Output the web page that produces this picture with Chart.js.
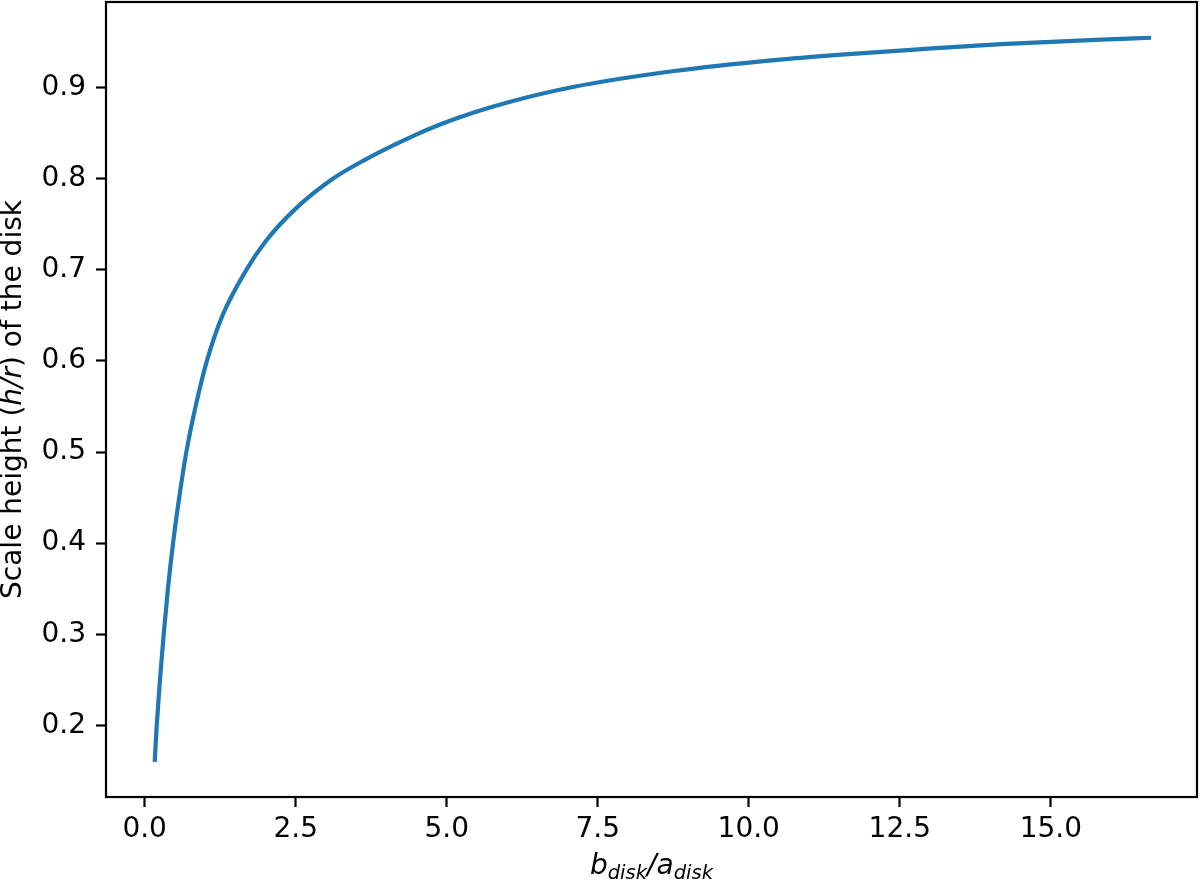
<!DOCTYPE html>
<html>
<head>
<meta charset="utf-8">
<script src="https://cdn.jsdelivr.net/npm/chart.js@4/dist/chart.umd.min.js"></script>
<style>
  html, body { margin: 0; padding: 0; background: #fff; }
  #wrap { width: 1200px; height: 880px; }
</style>
</head>
<body>
<div id="wrap"><canvas id="c" width="1200" height="880"></canvas></div>
<script>
// values
const ratioBA = [0.166, 0.187, 0.200, 0.253, 0.315, 0.385, 0.47, 0.572, 0.69, 0.843, 1.03, 1.29, 1.685, 2.0, 2.5, 3.12, 3.63, 4.457, 4.90, 5.5, 6.005, 7.11, 8.766, 10.42, 11.53, 12.85, 14.18, 15.83, 16.66]
const scaleHeight = [0.160, 0.185, 0.200, 0.250, 0.300, 0.350, 0.400, 0.450, 0.500, 0.550, 0.600, 0.650, 0.700, 0.731, 0.767, 0.800, 0.820, 0.847, 0.8595, 0.8735, 0.8835, 0.9007, 0.918, 0.930, 0.936, 0.942, 0.9475, 0.9525, 0.9545]
const xTicks = [0, 2.5, 5, 7.5, 10, 12.5, 15]
const yTicks = [0.2, 0.3, 0.4, 0.5, 0.6, 0.7, 0.8, 0.9]

const xTitle = [
  { t: 'b', it: true }, { t: 'disk', it: true, sub: true },
  { t: '/', it: true },
  { t: 'a', it: true }, { t: 'disk', it: true, sub: true }
]
const yTitle = [
  { t: 'Scale height (' }, { t: 'h', it: true }, { t: '/', it: true }, { t: 'r', it: true }, { t: ') of the disk' }
]

const FONT = 'DejaVu Sans'
const SIZE = 28

function segFont(s) {
  const sz = s.sub ? SIZE * 0.7 : SIZE
  return (s.it ? 'italic ' : '') + sz + 'px "' + FONT + '"'
}

function drawRich(ctx, segs, cx, baseY) {
  let total = 0
  segs.forEach(s => { ctx.font = segFont(s); total += ctx.measureText(s.t).width })
  let x = cx - total / 2
  ctx.textAlign = 'left'
  ctx.textBaseline = 'alphabetic'
  segs.forEach(s => {
    ctx.font = segFont(s)
    ctx.fillText(s.t, x, baseY + (s.sub ? 5 : 0))
    x += ctx.measureText(s.t).width
  })
}

// matplotlib-like frame and axis titles
const framePlugin = {
  id: 'frame',
  afterDraw(chart) {
    const { ctx, chartArea: a } = chart
    ctx.save()
    ctx.strokeStyle = '#000'
    ctx.lineWidth = 2.2
    ctx.strokeRect(a.left, a.top, a.right - a.left, a.bottom - a.top)
    ctx.fillStyle = '#000'
    drawRich(ctx, xTitle, (a.left + a.right) / 2, 874)
    ctx.translate(21, (a.top + a.bottom) / 2)
    ctx.rotate(-Math.PI / 2)
    drawRich(ctx, yTitle, 0, 0)
    ctx.restore()
  }
}

const points = ratioBA.map((x, i) => ({ x: x, y: scaleHeight[i] }))

const tickFont = { family: FONT, size: SIZE }

new Chart(document.getElementById('c'), {
  type: 'line',
  data: {
    datasets: [{
      data: points,
      borderColor: '#1f77b4',
      borderWidth: 4.2,
      pointRadius: 0,
      cubicInterpolationMode: 'monotone',
      fill: false
    }]
  },
  options: {
    responsive: false,
    animation: false,
    layout: { padding: { top: 2, right: 3, left: 0, bottom: 0 } },
    plugins: { legend: { display: false }, tooltip: { enabled: false } },
    scales: {
      x: {
        type: 'linear',
        min: -0.64,
        max: 17.42,
        afterBuildTicks: s => { s.ticks = xTicks.map(v => ({ value: v })) },
        afterFit: s => { s.height = 83; s.paddingLeft = 0; s.paddingRight = 0 },
        ticks: {
          font: tickFont, color: '#000', padding: 6, maxRotation: 0,
          callback: v => v.toFixed(1)
        },
        grid: { drawOnChartArea: false, drawTicks: true, tickLength: 10, tickWidth: 2.2, tickColor: '#000' },
        border: { display: false }
      },
      y: {
        min: 0.1215,
        max: 0.9937,
        afterBuildTicks: s => { s.ticks = yTicks.map(v => ({ value: v })) },
        afterFit: s => { s.width = 106; s.paddingTop = 0; s.paddingBottom = 0 },
        ticks: {
          font: tickFont, color: '#000', padding: 10,
          callback: v => v.toFixed(1)
        },
        grid: { drawOnChartArea: false, drawTicks: true, tickLength: 10, tickWidth: 2.2, tickColor: '#000' },
        border: { display: false }
      }
    }
  },
  plugins: [framePlugin]
})
</script>
</body>
</html>
